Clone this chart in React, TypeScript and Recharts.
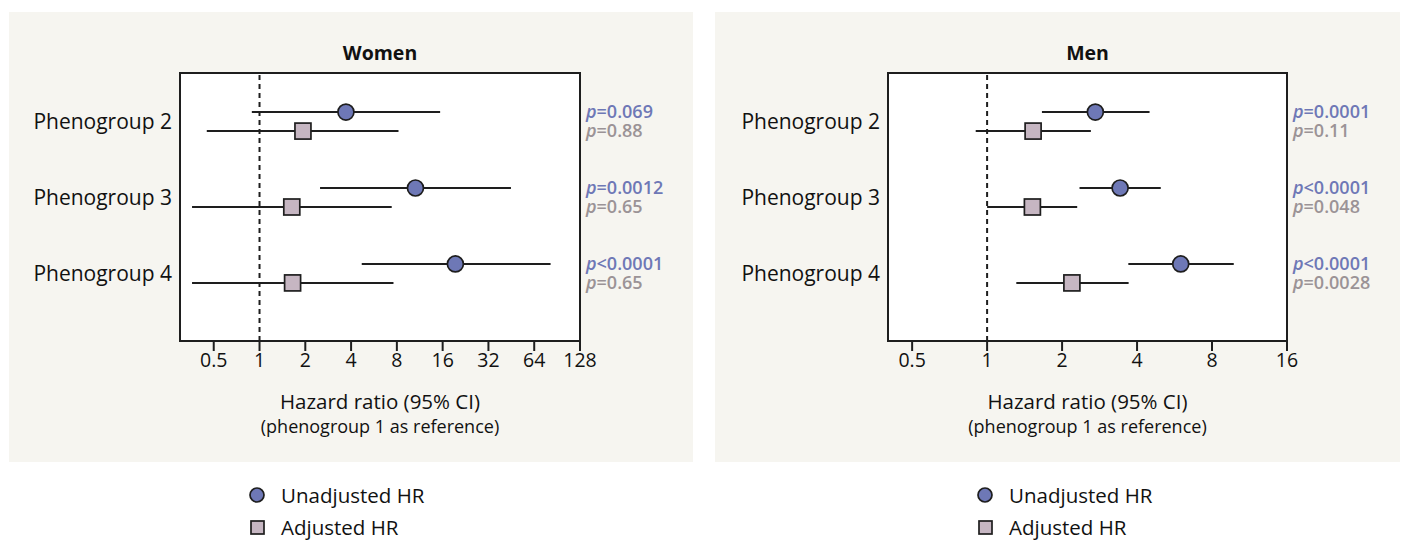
import React from 'react';
import {
  ScatterChart,
  Scatter,
  XAxis,
  YAxis,
  ErrorBar,
  ReferenceLine,
  ReferenceArea,
} from 'recharts';

// hazard ratios (hr, lower CI, upper CI)
const groups = ['Phenogroup 2', 'Phenogroup 3', 'Phenogroup 4'];

const womenUnadj = [
  { hr: 3.7, lo: 0.89, hi: 15.4 },
  { hr: 10.6, lo: 2.5, hi: 45 },
  { hr: 19.4, lo: 4.7, hi: 82 },
];
const womenAdj = [
  { hr: 1.93, lo: 0.45, hi: 8.2 },
  { hr: 1.63, lo: 0.36, hi: 7.4 },
  { hr: 1.65, lo: 0.36, hi: 7.6 },
];
const menUnadj = [
  { hr: 2.72, lo: 1.66, hi: 4.49 },
  { hr: 3.42, lo: 2.35, hi: 4.98 },
  { hr: 5.99, lo: 3.69, hi: 9.78 },
];
const menAdj = [
  { hr: 1.53, lo: 0.9, hi: 2.61 },
  { hr: 1.52, lo: 1.0, hi: 2.3 },
  { hr: 2.19, lo: 1.31, hi: 3.7 },
];

const womenPUnadj = ['=0.069', '=0.0012', '<0.0001'];
const womenPAdj = ['=0.88', '=0.65', '=0.65'];
const menPUnadj = ['=0.0001', '<0.0001', '<0.0001'];
const menPAdj = ['=0.11', '=0.048', '=0.0028'];

const womenTicks = [0.5, 1, 2, 4, 8, 16, 32, 64, 128];
const menTicks = [0.5, 1, 2, 4, 8, 16];

const BLUE = '#6e78b6';
const MAUVE = '#c6b6c2';
const INK = '#1e1e1e';
const PANEL = '#f6f5f0';
const FONT = '"Open Sans", sans-serif';

const OFF = 0.125; // vertical offset of the two estimates within a group

type Est = { hr: number; lo: number; hi: number };

const toPoints = (rows: Est[], dy: number) =>
  rows.map((r, i) => ({ x: r.hr, y: i + 2 + dy, err: [r.hr - r.lo, r.hi - r.hr] }));

const CircleShape = (props: any) => (
  <circle cx={props.cx} cy={props.cy} r={8} fill={BLUE} stroke={INK} strokeWidth={1.7} />
);
const SquareShape = (props: any) => (
  <rect x={props.cx - 8} y={props.cy - 8} width={16} height={16} fill={MAUVE} stroke={INK} strokeWidth={1.7} />
);

interface PanelProps {
  left: number;
  width: number;
  yAxisWidth: number;
  title: string;
  domain: [number, number];
  ticks: number[];
  unadj: Est[];
  adj: Est[];
  pUnadj: string[];
  pAdj: string[];
}

const Y_DOMAIN: [number, number] = [1.36, 4.89];

const ForestPanel: React.FC<PanelProps> = ({
  left, width, yAxisWidth, title, domain, ticks, unadj, adj, pUnadj, pAdj,
}) => {
  const unadjPts = toPoints(unadj, -OFF);
  const adjPts = toPoints(adj, OFF);

  const pTicks: number[] = [];
  const pText: Record<string, { txt: string; color: string }> = {};
  groups.forEach((_, i) => {
    pTicks.push(i + 2 - OFF, i + 2 + OFF);
    pText[(i + 2 - OFF).toFixed(3)] = { txt: pUnadj[i], color: BLUE };
    pText[(i + 2 + OFF).toFixed(3)] = { txt: pAdj[i], color: '#9b9396' };
  });

  const PTick = (props: any) => {
    const item = pText[Number(props.payload.value).toFixed(3)];
    if (!item) return null;
    return (
      <text x={props.x} y={props.y} dy="0.35em" fontSize={18} fontWeight={600} fill={item.color}>
        <tspan fontStyle="italic">p</tspan>
        {item.txt}
      </text>
    );
  };

  const plotW = width - yAxisWidth - 113;
  const plotCx = left + yAxisWidth + plotW / 2;

  return (
    <>
      <div
        style={{ position: 'absolute', left, top: 12, width, height: 450, background: PANEL }}
      />
      <div
        style={{
          position: 'absolute', left: plotCx - 100, width: 200, top: 39, textAlign: 'center',
          fontSize: 19.5, fontWeight: 700, color: '#111',
        }}
      >
        {title}
      </div>
      <div style={{ position: 'absolute', left, top: 12 }}>
        <ScatterChart width={width} height={450} margin={{ top: 61, right: 0, bottom: 0, left: 0 }}>
          <XAxis
            type="number"
            dataKey="x"
            scale="log"
            domain={domain}
            allowDataOverflow
            ticks={ticks}
            interval={0}
            axisLine={false}
            tickSize={10}
            tickLine={{ stroke: INK, strokeWidth: 2 }}
            tick={{ fill: '#111', fontSize: 19.5 }}
            tickFormatter={(v: number) => String(v)}
            height={121}
            label={{
              content: (p: any) => {
                const vb = p.viewBox || {};
                const cx = vb.x + vb.width / 2;
                return (
                  <g>
                    <text x={cx} y={vb.y + 61} textAnchor="middle" dy="0.35em" fontSize={20.5} fill="#111">
                      Hazard ratio (95% CI)
                    </text>
                    <text x={cx} y={vb.y + 86} textAnchor="middle" dy="0.35em" fontSize={18} fill="#111">
                      (phenogroup 1 as reference)
                    </text>
                  </g>
                );
              },
            }}
          />
          <YAxis
            yAxisId="left"
            type="number"
            dataKey="y"
            domain={Y_DOMAIN}
            reversed
            allowDataOverflow
            ticks={[2, 3, 4]}
            interval={0}
            tickFormatter={(v: number) => groups[v - 2]}
            axisLine={false}
            tickLine={false}
            tickSize={6}
            tick={{ fill: '#111', fontSize: 21 }}
            width={yAxisWidth}
          />
          <YAxis
            yAxisId="right"
            orientation="right"
            type="number"
            domain={Y_DOMAIN}
            reversed
            allowDataOverflow
            ticks={pTicks}
            interval={0}
            axisLine={false}
            tickLine={false}
            tickSize={4}
            tick={PTick}
            width={113}
          />
          <ReferenceArea
            yAxisId="left"
            x1={domain[0]}
            x2={domain[1]}
            y1={Y_DOMAIN[0]}
            y2={Y_DOMAIN[1]}
            fill="#ffffff"
            fillOpacity={1}
            stroke={INK}
            strokeWidth={2}
            ifOverflow="extendDomain"
          />
          <ReferenceLine yAxisId="left" x={1} stroke={INK} strokeWidth={2} strokeDasharray="5 4" />
          <Scatter yAxisId="left" data={unadjPts} shape={CircleShape} isAnimationActive={false}>
            <ErrorBar dataKey="err" direction="x" width={0} stroke={INK} strokeWidth={2} />
          </Scatter>
          <Scatter yAxisId="left" data={adjPts} shape={SquareShape} isAnimationActive={false}>
            <ErrorBar dataKey="err" direction="x" width={0} stroke={INK} strokeWidth={2} />
          </Scatter>
        </ScatterChart>
      </div>
    </>
  );
};

const LegendBlock: React.FC<{ x: number }> = ({ x }) => (
  <div style={{ position: 'absolute', left: x - 12, top: 479, fontSize: 20.5, color: '#111', lineHeight: '32px' }}>
    <div style={{ display: 'flex', alignItems: 'center' }}>
      <svg width={24} height={24} style={{ marginRight: 12 }}>
        <circle cx={12} cy={12} r={7} fill={BLUE} stroke={INK} strokeWidth={1.7} />
      </svg>
      Unadjusted HR
    </div>
    <div style={{ display: 'flex', alignItems: 'center' }}>
      <svg width={24} height={24} style={{ marginRight: 12 }}>
        <rect x={6} y={6} width={13} height={13} fill={MAUVE} stroke={INK} strokeWidth={1.7} />
      </svg>
      Adjusted HR
    </div>
  </div>
);

export default function App() {
  return (
    <div
      style={{
        position: 'absolute', left: 0, top: 0, width: 1411, height: 541,
        background: '#ffffff', fontFamily: FONT, overflow: 'hidden',
      }}
    >
      <ForestPanel
        left={9}
        width={684}
        yAxisWidth={171}
        title="Women"
        domain={[0.3, 128]}
        ticks={womenTicks}
        unadj={womenUnadj}
        adj={womenAdj}
        pUnadj={womenPUnadj}
        pAdj={womenPAdj}
      />
      <ForestPanel
        left={715}
        width={685}
        yAxisWidth={173}
        title="Men"
        domain={[0.4, 16]}
        ticks={menTicks}
        unadj={menUnadj}
        adj={menAdj}
        pUnadj={menPUnadj}
        pAdj={menPAdj}
      />
      <LegendBlock x={257} />
      <LegendBlock x={985} />
    </div>
  );
}
